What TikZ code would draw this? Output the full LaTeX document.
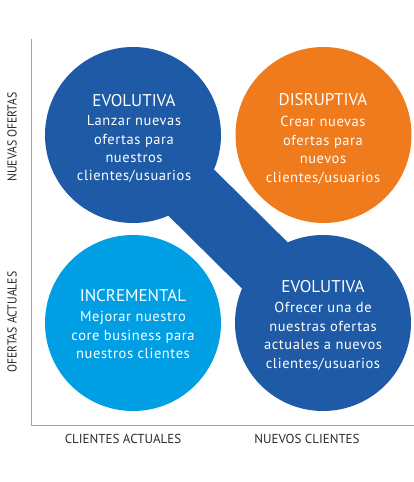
\documentclass[tikz,border=0pt]{standalone}
\usepackage{fontspec}
\setmainfont{PT Sans}
\newfontfamily\narrowlabel{PT Sans}[FakeStretch=0.9]
\definecolor{darkblue}{HTML}{1F5AA6}
\definecolor{orangec}{HTML}{F07B1C}
\definecolor{lightblue}{HTML}{009EE3}
\definecolor{axisc}{HTML}{8EA6CC}
\definecolor{labelc}{HTML}{2B2B2B}
\begin{document}
\begin{tikzpicture}[x=1pt,y=-1pt,
  bubble/.style={circle,minimum size=176pt,inner sep=0pt,draw=none},
  band/.style={line width=65pt,darkblue},
  title/.style={text=white,font=\fontsize{17}{18}\selectfont},
  body/.style={text=white,align=center,font=\addfontfeature{LetterSpace=4}\fontsize{14.5}{18.4}\selectfont},
  axislabel/.style={text=labelc,font=\fontsize{13}{14}\selectfont},
  vlabel/.style={text=labelc,font=\narrowlabel\fontsize{13}{14}\selectfont},
  axisline/.style={draw=axisc,line width=1pt}]
\useasboundingbox (0,0) rectangle (414,482);
% axes
\coordinate (ytop) at (31,39);
\coordinate (orig) at (31,425);
\coordinate (xend) at (414,425);
\draw[axisline] (ytop) -- (orig) -- (xend);
% circles
\node[bubble] (c1) at (133,135) {};
\node[bubble] (c4) at (323,323) {};
\draw[band] (c1.center) -- (c4.center);
\node[bubble,fill=darkblue] at (c1) {};
\node[bubble,fill=darkblue] at (c4) {};
\node[bubble,fill=orangec] (c2) at (323.5,135) {};
\node[bubble,fill=lightblue] (c3) at (133,323) {};
% texts
\node[title] (t1) at (134,101) {EVOLUTIVA};
\node[body,anchor=north] (b1) at (134,112) {Lanzar nuevas\\ofertas para\\nuestros\\clientes/usuarios};
\node[title] (t2) at (323,100) {DISRUPTIVA};
\node[body,anchor=north] (b2) at (323,113) {Crear nuevas\\ofertas para\\nuevos\\clientes/usuarios};
\node[title] (t3) at (133,296) {INCREMENTAL};
\node[body,anchor=north] (b3) at (133,308) {Mejorar nuestro\\core business para\\nuestros clientes};
\node[title] (t4) at (323,287) {EVOLUTIVA};
\node[body,anchor=north] (b4) at (323,299) {Ofrecer una de\\nuestras ofertas\\actuales a nuevos\\clientes/usuarios};
% axis labels
\node[vlabel,rotate=90] (l1) at (12,137) {NUEVAS OFERTAS};
\node[vlabel,rotate=90] (l2) at (12,322) {OFERTAS ACTUALES};
\node[axislabel] (l3) at (123,439) {CLIENTES ACTUALES};
\node[axislabel] (l4) at (307,439) {NUEVOS CLIENTES};
\end{tikzpicture}
\end{document}
